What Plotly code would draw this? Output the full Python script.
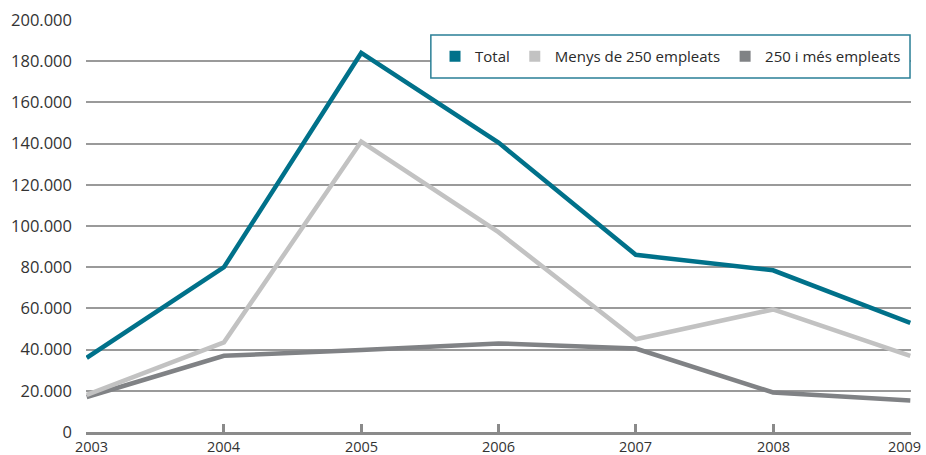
import plotly.graph_objects as go

years = [2003, 2004, 2005, 2006, 2007, 2008, 2009]
total = [36000, 80000, 184000, 140500, 86000, 78500, 53000]
menys_250 = [18000, 43500, 141000, 97000, 45000, 59500, 37000]
mes_250 = [17000, 37000, 39800, 43000, 40500, 19200, 15300]

names = ["Total", "Menys de 250 empleats", "250 i més empleats"]
colors = ["#00718a", "#c2c2c2", "#808285"]
series = [total, menys_250, mes_250]

y_ticks = [0, 20000, 40000, 60000, 80000, 100000, 120000, 140000, 160000, 180000, 200000]
x_labels = [str(y) for y in years]

fig = go.Figure()
for name, col, vals in reversed(list(zip(names, colors, series))):
    fig.add_trace(go.Scatter(x=years, y=vals, mode="lines", name=name,
                             line=dict(color=col, width=4.5), showlegend=False,
                             legendgroup=name))
for name, col in zip(names, colors):
    fig.add_trace(go.Scatter(x=[None], y=[None], mode="markers", name=name,
                             marker=dict(symbol="square", size=11, color=col),
                             legendgroup=name, showlegend=True))

# legend frame (decoration)
fig.add_shape(type="rect", xref="paper", yref="paper",
              x0=0.418, x1=0.9988, y0=0.859, y1=0.9636,
              line=dict(color="#2a7f96", width=1.5), fillcolor="white", layer="above")

# x tick labels (edge labels kept inside the canvas, as in the reference)
for i, (yr, lab) in enumerate(zip(years, x_labels)):
    if i == 0:
        anchor, shift = "left", -13
    elif i == len(years) - 1:
        anchor, shift = "right", 12
    else:
        anchor, shift = "center", 0
    fig.add_annotation(x=yr, y=0, xref="x", yref="paper", text=lab,
                       showarrow=False, xanchor=anchor, yanchor="middle",
                       xshift=shift, yshift=-14, borderpad=0,
                       font=dict(family="Open Sans", size=14.5, color="#333333"))

fig.update_layout(
    width=926, height=455,
    margin=dict(l=86, r=15, t=20, b=23, autoexpand=False),
    paper_bgcolor="white", plot_bgcolor="white",
    separators=",.",
    font=dict(family="Open Sans", size=16, color="#333333"),
    legend=dict(orientation="h", x=0.7085, xanchor="center", y=0.9114, yanchor="middle",
                borderwidth=0, bgcolor="rgba(0,0,0,0)",
                font=dict(size=15, color="#2a2a2a"), itemwidth=30,
                tracegroupgap=0),
    xaxis=dict(range=[2002.995, 2009.005], tickmode="array", tickvals=years,
               showticklabels=False, showgrid=False, automargin=False,
               showline=True, linecolor="#8a8a8a", linewidth=3,
               ticks="inside", ticklen=8, tickwidth=2.5, tickcolor="#8a8a8a",
               zeroline=False, fixedrange=True),
    yaxis=dict(range=[0, 200000], tickmode="array", tickvals=y_ticks,
               tickformat=",d", showgrid=True, gridcolor="#9a9a9a", gridwidth=1.5,
               zeroline=False, showline=False, ticks="", ticklabelstandoff=13,
               automargin=False, ticklabeloverflow="allow",
               fixedrange=True, tickfont=dict(size=16.5)),
)

fig.write_html("out.html", config={"displayModeBar": False},
               post_script="document.body.style.margin='0';document.body.style.overflow='hidden';")
